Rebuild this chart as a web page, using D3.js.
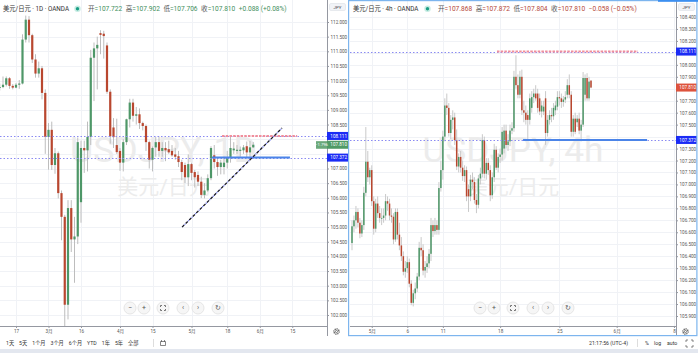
<!DOCTYPE html>
<html>
<head>
<meta charset="utf-8">
<script src="https://cdn.jsdelivr.net/npm/d3@7"></script>
<style>
  body { margin: 0; background: #fff; }
  svg { display: block; }
</style>
</head>
<body>
<script>
var FONT = "Roboto, 'Noto Sans CJK SC', sans-serif";
var upColor = "#4e9768", downColor = "#b9472f";

// ---- daily USD/JPY, weekdays from 2020-02-10 ----
var dayStart = "2020-02-10";
var dayOpen = [109.75,109.78,109.86,110.08,109.82,109.76,109.86,109.90,111.40,112.08,
  111.55,110.72,110.24,110.42,109.58,108.08,108.32,107.12,107.52,106.16,
  105.35,102.35,105.65,104.58,104.68,105.85,107.70,107.62,108.08,110.78,
  111.10,111.62,111.60,111.20,109.62,108.40,107.80,107.60,107.20,107.90,
  108.68,109.25,108.80,108.85,108.55,108.45,107.90,107.30,107.72,107.90,
  107.60,107.70,107.66,107.60,107.48,107.42,107.22,107.12,106.70,107.15,
  106.88,106.78,106.55,106.10,106.25,106.67,107.45,107.22,107.05,107.05,
  107.20,107.38,107.62,107.60,107.60,107.62,107.76,107.55,107.722];
var dayHigh = [109.90,110.14,110.14,110.12,109.88,109.92,110.02,111.58,112.22,112.20,
  111.60,110.90,110.65,110.50,109.70,108.55,108.60,107.70,107.58,106.25,
  105.42,105.92,105.92,105.35,108.06,107.95,107.95,108.60,111.05,111.30,
  111.50,111.72,111.70,111.30,109.70,108.72,108.70,107.70,108.00,108.70,
  109.38,109.38,109.10,109.05,108.60,108.50,107.95,107.75,108.08,108.10,
  107.90,107.90,107.95,107.80,107.70,107.60,107.30,107.20,107.48,107.20,
  106.95,106.90,106.72,106.50,106.80,107.76,107.80,107.32,107.30,107.40,
  107.60,108.08,107.90,107.80,107.75,107.80,107.92,107.94,107.902];
var dayLow = [109.66,109.74,109.80,109.72,109.70,109.74,109.72,109.87,111.30,111.30,
  110.60,110.10,110.10,109.36,107.50,106.96,106.95,106.82,105.98,104.55,
  101.18,101.85,104.15,103.10,104.42,105.15,106.85,106.90,107.80,109.30,
  109.70,110.90,110.75,109.55,107.85,107.70,107.50,106.92,106.90,107.80,
  108.40,108.60,108.50,108.35,108.30,107.60,107.00,106.90,107.40,107.40,
  107.40,107.25,107.50,107.40,107.30,107.05,106.60,106.50,106.40,106.60,
  106.35,106.40,105.99,105.98,106.20,106.60,107.00,106.75,106.80,106.80,
  107.00,107.20,107.50,107.50,107.40,107.50,107.36,107.40,107.706];
var dayClose = [109.78,109.86,110.08,109.82,109.76,109.86,109.90,111.40,112.08,111.55,
  110.72,110.24,110.42,109.58,108.08,108.32,107.12,107.52,106.16,105.35,
  102.35,105.65,104.58,104.68,107.90,107.70,107.62,108.08,110.78,111.10,
  111.22,111.56,111.52,109.62,108.10,108.07,107.56,107.20,107.90,108.68,
  109.25,108.80,108.85,108.55,108.45,107.90,107.30,107.70,107.90,107.60,
  107.70,107.62,107.55,107.45,107.40,107.22,106.88,106.70,107.15,106.85,
  106.70,106.55,106.10,106.25,106.67,107.70,107.22,107.05,107.20,107.20,
  107.38,107.70,107.68,107.64,107.64,107.72,107.55,107.722,107.810];
var dayPriceTicks = [112,111.5,111,110.5,110,109.5,109,108.5,108,107.5,107,106.5,106,105.5,105,104.5,104,103.5,103,102.5,102];
var dayTimeTicks = [["2020-02-17","17"],["2020-03-02","3月"],["2020-03-16","16"],["2020-04-01","4月"],
  ["2020-04-15","15"],["2020-05-01","5月"],["2020-05-18","18"],["2020-06-01","6月"],["2020-06-15","15"]];

// ---- 4h USD/JPY, bar index 0 = Apr 29 ----
var h4Open = [106.51,106.65,106.70,106.77,106.68,106.59,106.66,106.93,107.19,107.06,
  107.12,106.86,106.63,106.84,106.76,106.72,106.72,106.74,106.86,106.84,
  106.74,106.73,106.54,106.77,106.58,106.49,106.40,106.27,106.30,106.35,
  106.17,106.01,106.09,106.13,106.23,106.47,106.45,106.28,106.31,106.34,
  106.42,106.66,106.61,106.66,106.62,106.97,107.12,107.40,107.66,107.64,
  107.43,107.54,107.56,107.37,107.15,107.23,107.14,107.07,107.12,106.96,
  106.90,107.04,107.02,106.87,106.83,107.05,107.09,107.37,107.09,107.18,
  107.12,106.91,107.06,107.29,107.14,107.23,107.25,107.30,107.45,107.33,
  107.36,107.45,107.47,107.90,107.83,107.75,107.90,107.62,107.60,107.58,
  107.54,107.64,107.73,107.76,107.76,107.72,107.61,107.61,107.72,107.43,
  107.54,107.58,107.57,107.62,107.65,107.73,107.72,107.69,107.71,107.75,
  107.83,107.75,107.44,107.55,107.52,107.55,107.45,107.50,107.75,107.89,
  107.72,107.868];
var h4High = [106.70,106.74,106.82,106.80,106.72,106.70,106.98,107.48,107.28,107.14,
  107.16,106.90,106.88,106.90,106.82,106.80,106.80,106.92,106.90,106.88,
  106.80,106.76,106.80,106.80,106.68,106.56,106.44,106.36,106.40,106.38,
  106.20,106.12,106.18,106.26,106.52,106.56,106.50,106.36,106.40,106.46,
  106.72,106.70,106.72,106.70,107.02,107.20,107.45,107.72,107.76,107.68,
  107.58,107.62,107.60,107.46,107.26,107.28,107.20,107.16,107.15,107.00,
  107.08,107.10,107.06,106.92,107.08,107.14,107.42,107.40,107.22,107.22,
  107.16,107.10,107.34,107.32,107.26,107.30,107.48,107.50,107.50,107.42,
  107.50,107.52,107.95,108.08,107.92,107.95,107.96,107.70,107.66,107.62,
  107.76,107.78,107.80,107.83,107.80,107.76,107.70,107.70,107.78,107.58,
  107.62,107.64,107.68,107.70,107.78,107.78,107.76,107.74,107.78,107.88,
  107.92,107.78,107.58,107.60,107.58,107.60,107.54,107.94,107.92,107.93,
  107.90,107.872];
var h4Low = [106.45,106.60,106.63,106.64,106.55,106.56,106.62,106.90,107.02,107.00,
  106.82,106.58,106.60,106.72,106.68,106.66,106.68,106.70,106.78,106.70,
  106.68,106.50,106.52,106.54,106.45,106.36,106.24,106.22,106.26,106.14,
  105.99,105.98,106.04,106.10,106.20,106.40,106.24,106.22,106.26,106.30,
  106.36,106.56,106.58,106.58,106.58,106.94,107.04,107.36,107.58,107.40,
  107.38,107.46,107.33,107.12,107.10,107.10,107.03,107.02,106.86,106.77,
  106.86,106.96,106.84,106.76,106.80,107.00,107.06,107.05,107.04,107.08,
  106.86,106.88,107.02,107.12,107.10,107.18,107.20,107.26,107.30,107.28,
  107.32,107.42,107.44,107.80,107.72,107.72,107.58,107.52,107.50,107.37,
  107.50,107.60,107.68,107.70,107.60,107.58,107.56,107.58,107.33,107.40,
  107.50,107.52,107.54,107.58,107.62,107.66,107.64,107.65,107.68,107.72,
  107.72,107.40,107.40,107.42,107.48,107.42,107.36,107.48,107.70,107.70,
  107.70,107.804];
var h4Close = [106.65,106.70,106.77,106.68,106.59,106.66,106.93,107.19,107.06,107.12,
  106.86,106.63,106.84,106.76,106.72,106.72,106.74,106.86,106.84,106.74,
  106.73,106.54,106.77,106.58,106.49,106.40,106.27,106.30,106.35,106.17,
  106.01,106.09,106.13,106.23,106.47,106.45,106.28,106.31,106.34,106.42,
  106.66,106.61,106.66,106.62,106.97,107.12,107.40,107.66,107.64,107.43,
  107.54,107.56,107.37,107.15,107.23,107.14,107.07,107.12,106.90,106.90,
  107.04,107.02,106.87,106.83,107.05,107.09,107.37,107.09,107.18,107.12,
  106.91,107.06,107.29,107.14,107.23,107.25,107.44,107.45,107.33,107.36,
  107.45,107.47,107.90,107.83,107.75,107.90,107.62,107.60,107.54,107.54,
  107.72,107.73,107.76,107.72,107.64,107.61,107.66,107.65,107.43,107.54,
  107.58,107.57,107.64,107.66,107.73,107.72,107.69,107.71,107.73,107.83,
  107.75,107.44,107.55,107.44,107.55,107.45,107.50,107.89,107.89,107.72,
  107.86,107.810];
var h4PriceTicks = [108.4,108.3,108.2,108.1,108,107.9,107.8,107.7,107.6,107.5,107.4,107.3,107.2,
  107.1,107,106.9,106.8,106.7,106.6,106.5,106.4,106.3,106.2,106.1,106,105.9];
var h4TimeTicks = [[10,"5月"],[28,"6"],[46,"11"],[75,"18"],[105,"25"],[134,"6月"],[163,"8"]];

// drawn levels and tools
var levels = [108.111, 107.372];
var dayResistSpan = [68.4, 91.5], daySupportSpan = [65.3, 89.3];
var dayTrend = [[56.1, 105.0], [86.85, 108.38]];
var h4ResistSpan = [73.4, 144.8], h4SupportSpan = [86.6, 149.4];

var rangeButtons = ["1天","5天","1个月","3个月","6个月","YTD","1年","5年","全部"];

var parse = d3.timeParse("%Y-%m-%d"), fmt = d3.timeFormat("%Y-%m-%d");
var weekdays = d3.timeDay.range(parse(dayStart), parse("2020-07-01"))
  .filter(function(d){ return d.getDay() > 0 && d.getDay() < 6; });
var dayIndex = {};
weekdays.forEach(function(d, i){ dayIndex[fmt(d)] = i; });

function bars(o, h, l, c) {
  return o.map(function(v, i){ return {i: i, o: v, h: h[i], l: l[i], c: c[i]}; });
}

var svg = d3.select("body").append("svg")
  .attr("width", 698).attr("height", 353)
  .attr("font-family", FONT);

function drawPanel(p) {
  var g = svg.append("g");
  var x = p.x, y = p.y;
  var lastClose = p.data[p.data.length - 1].c;
  var tagPrices = levels.concat([lastClose]);

  // grid
  g.selectAll(".hg").data(p.priceTicks).enter().append("line")
    .attr("x1", p.left).attr("x2", p.right)
    .attr("y1", function(d){ return Math.round(y(d)) + 0.5; })
    .attr("y2", function(d){ return Math.round(y(d)) + 0.5; })
    .attr("stroke", "#f0f2f6");
  g.selectAll(".vg").data(p.timeTicks).enter().append("line")
    .attr("x1", function(d){ return Math.round(x(d[0])) + 0.5; })
    .attr("x2", function(d){ return Math.round(x(d[0])) + 0.5; })
    .attr("y1", 0).attr("y2", p.bottom)
    .attr("stroke", "#f0f2f6");

  // watermark
  var cx = (p.left + p.right) / 2;
  g.append("text").attr("x", cx).attr("y", 162).attr("text-anchor", "middle")
    .attr("font-size", 35).attr("fill", "#ececec")
    .attr("textLength", p.wmWidth).attr("lengthAdjust", "spacingAndGlyphs")
    .text(p.watermark);
  g.append("text").attr("x", cx).attr("y", 194).attr("text-anchor", "middle")
    .attr("font-size", 21).attr("fill", "#ececec")
    .text("美元/日元");

  var clip = "clip-" + p.name;
  svg.append("clipPath").attr("id", clip).append("rect")
    .attr("x", p.left).attr("y", 0).attr("width", p.right - p.left).attr("height", p.bottom);
  var pg = g.append("g").attr("clip-path", "url(#" + clip + ")");

  // candles
  var cg = pg.selectAll(".cdl").data(p.data).enter().append("g");
  cg.append("line")
    .attr("x1", function(d){ return x(d.i); }).attr("x2", function(d){ return x(d.i); })
    .attr("y1", function(d){ return y(d.h); }).attr("y2", function(d){ return y(d.l); })
    .attr("stroke", p.wick).attr("stroke-width", 1);
  cg.append("rect")
    .attr("x", function(d){ return x(d.i) - p.bodyW / 2; })
    .attr("width", p.bodyW)
    .attr("y", function(d){ return y(Math.max(d.o, d.c)); })
    .attr("height", function(d){ return Math.max(0.8, Math.abs(y(d.o) - y(d.c))); })
    .attr("fill", function(d){ return d.c >= d.o ? upColor : downColor; });

  // horizontal level lines (dotted across the pane)
  pg.selectAll(".lvl").data(levels).enter().append("line")
    .attr("x1", p.left).attr("x2", p.right)
    .attr("y1", function(d){ return Math.round(y(d)) + 0.5; })
    .attr("y2", function(d){ return Math.round(y(d)) + 0.5; })
    .attr("stroke", "#8a8af2").attr("stroke-width", 1).attr("stroke-dasharray", "1.5,2");

  // resistance ray (red dashed) and support ray (blue)
  pg.append("line")
    .attr("x1", x(p.resist[0])).attr("x2", x(p.resist[1]))
    .attr("y1", y(levels[0])).attr("y2", y(levels[0]))
    .attr("stroke", "#f08e9c").attr("stroke-width", 2).attr("stroke-dasharray", "2.5,1.2");
  pg.append("line")
    .attr("x1", x(p.support[0])).attr("x2", x(p.support[1]))
    .attr("y1", y(levels[1])).attr("y2", y(levels[1]))
    .attr("stroke", "#4b84e8").attr("stroke-width", 2);

  if (p.trend) {
    var t = p.trend;
    pg.append("line")
      .attr("x1", x(t[0][0])).attr("y1", y(t[0][1]))
      .attr("x2", x(t[1][0])).attr("y2", y(t[1][1]))
      .attr("stroke", "#1a1a2a").attr("stroke-width", 1.3).attr("stroke-dasharray", "3,2");
    pg.append("line")
      .attr("x1", x(t[0][0])).attr("y1", y(t[0][1]))
      .attr("x2", x(t[1][0])).attr("y2", y(t[1][1]))
      .attr("stroke", "#6a72f0").attr("stroke-width", 1.3).attr("stroke-dasharray", "1,4")
      .attr("stroke-dashoffset", -3.5);
  }

  // navigation buttons
  var nav = ["−", "+", "fit", "‹", "›", "↻"];
  var navDx = [0, 14, 33, 53, 68, 88];
  var ng = g.selectAll(".nav").data(nav).enter().append("g")
    .attr("transform", function(d, i){ return "translate(" + (p.left + 130 + navDx[i]) + ",308)"; });
  ng.append("circle").attr("r", 6).attr("fill", "#f6f6f6").attr("stroke", "#e6e6e6");
  ng.filter(function(d){ return d !== "fit"; }).append("text")
    .attr("text-anchor", "middle").attr("dy", "0.35em")
    .attr("font-size", 7).attr("fill", "#555").text(function(d){ return d; });
  ng.filter(function(d){ return d === "fit"; }).append("path")
    .attr("d", "M-2.5,-1v-1.5h1.5M1,-2.5h1.5v1.5M2.5,1v1.5h-1.5M-1,2.5h-1.5v-1.5")
    .attr("fill", "none").attr("stroke", "#555").attr("stroke-width", 0.8);

  // price axis (labels hidden under the price tags are skipped)
  var shown = p.priceTicks.filter(function(d){
    return y(d) > 14 && tagPrices.every(function(tp){ return Math.abs(y(d) - y(tp)) > 5.2; });
  });
  var ya = d3.axisRight(y).tickValues(shown).tickFormat(d3.format(".3f"))
    .tickSize(2).tickPadding(1.5);
  var yag = g.append("g").attr("transform", "translate(" + p.right + ",0)").call(ya);
  yag.select(".domain").remove();
  yag.attr("font-size", 4.6).attr("font-family", FONT);
  yag.selectAll("text").attr("fill", "#555");
  yag.selectAll("line").attr("stroke", "#9598a1");

  // time axis
  var xa = d3.axisBottom(x).tickValues(p.timeTicks.map(function(d){ return d[0]; }))
    .tickFormat(function(v){ return p.timeTicks.find(function(d){ return d[0] === v; })[1]; })
    .tickSize(2).tickPadding(1.5);
  var xag = g.append("g").attr("transform", "translate(0," + p.bottom + ")").call(xa);
  xag.select(".domain").remove();
  xag.attr("font-size", 4.6).attr("font-family", FONT);
  xag.selectAll("text").attr("fill", "#555");
  xag.selectAll("line").attr("stroke", "#9598a1");

  g.append("line").attr("x1", p.left).attr("x2", p.right)
    .attr("y1", p.bottom + 0.5).attr("y2", p.bottom + 0.5).attr("stroke", "#9598a1");
  g.append("line").attr("x1", p.right + 0.5).attr("x2", p.right + 0.5)
    .attr("y1", 0).attr("y2", 336).attr("stroke", "#9598a1");

  // gear
  var gx = p.right + 9.5, gy = 331.5;
  g.append("circle").attr("cx", gx).attr("cy", gy).attr("r", 2.6)
    .attr("fill", "none").attr("stroke", "#444").attr("stroke-width", 1.3).attr("stroke-dasharray", "1.1,0.9");
  g.append("circle").attr("cx", gx).attr("cy", gy).attr("r", 1.1)
    .attr("fill", "none").attr("stroke", "#444").attr("stroke-width", 0.7);

  // JPY badge
  g.append("rect").attr("x", p.right + 2.5).attr("y", 3.5).attr("width", 16).attr("height", 7).attr("rx", 1.5)
    .attr("fill", "#f1f3f7").attr("stroke", "#dcdfe6").attr("stroke-width", 0.6);
  g.append("text").attr("x", p.right + 10.5).attr("y", 8.7).attr("text-anchor", "middle")
    .attr("font-size", 4.4).attr("fill", "#444").text("JPY");

  // price tags on the axis
  function tag(price, fill, x0, w, txt) {
    var yy = y(price);
    g.append("rect").attr("x", x0).attr("y", yy - 4).attr("width", w).attr("height", 8).attr("fill", fill);
    g.append("text").attr("x", x0 + w - 1).attr("y", yy + 1.6).attr("text-anchor", "end")
      .attr("font-size", 4.6).attr("fill", "#fff").text(txt);
  }
  tag(levels[0], "#1b2cf5", p.right, 21, d3.format(".3f")(levels[0]));
  tag(levels[1], "#1b2cf5", p.right, 21, d3.format(".3f")(levels[1]));
  p.lastTag(tag, y);

  // header
  var last = p.data[p.data.length - 1];
  var chg = last.c - last.o;
  g.append("text").attr("x", p.left + 3).attr("y", 11).attr("font-size", 6.3).attr("fill", "#333")
    .text("美元/日元 · " + p.interval + " · OANDA");
  g.append("circle").attr("cx", p.left + 77.5).attr("cy", 8.8).attr("r", 3.2).attr("fill", "#c7ece3");
  g.append("circle").attr("cx", p.left + 77.5).attr("cy", 8.8).attr("r", 1.7).attr("fill", "#1b9e84");
  var vc = p.headColor;
  var ohlc = g.append("text").attr("x", p.left + 88).attr("y", 11).attr("font-size", 6.6);
  [["开", last.o], ["高", last.h], ["低", last.l], ["收", last.c]].forEach(function(k, i){
    ohlc.append("tspan").attr("fill", "#555").attr("dx", i ? 3.5 : 0).text(k[0]);
    ohlc.append("tspan").attr("fill", vc).text("=" + d3.format(".3f")(k[1]));
  });
  ohlc.append("tspan").attr("fill", vc).attr("dx", 3.5)
    .text((chg >= 0 ? "+" : "−") + d3.format(".3f")(Math.abs(chg)) + " (" + (chg >= 0 ? "+" : "−") +
      d3.format(".2f")(Math.abs(chg / last.o * 100)) + "%)");
}

// left: daily
var yDay = d3.scaleLinear().domain([102, 112]).range([315, 22]);
var xDay = d3.scaleLinear().domain([0, 90]).range([-0.25, 292.25]);
drawPanel({
  name: "day", left: 0, right: 327, bottom: 326,
  x: xDay, y: yDay, data: bars(dayOpen, dayHigh, dayLow, dayClose),
  bodyW: 2.2, wick: "#bdbdbd",
  priceTicks: dayPriceTicks,
  timeTicks: dayTimeTicks.map(function(d){ return [dayIndex[d[0]], d[1]]; }),
  watermark: "USDJPY, 1D", wmWidth: 187, interval: "1D",
  resist: dayResistSpan, support: daySupportSpan, trend: dayTrend,
  headColor: "#3f8f5d",
  lastTag: function(tag, y){
    var c = dayClose[dayClose.length - 1], yy = y(c);
    svg.append("rect").attr("x", 316).attr("y", yy - 3.6).attr("width", 11).attr("height", 7.6).attr("fill", "#6aa87a");
    svg.append("text").attr("x", 321.5).attr("y", yy + 1.6).attr("text-anchor", "middle")
      .attr("font-size", 4.2).attr("fill", "#fff").text("−1.796");
    tag(c, "#4f9a66", 327, 21, d3.format(".3f")(c));
  }
});

// right: 4h
var yH4 = d3.scaleLinear().domain([105.9, 108.4]).range([316, 17]);
var xH4 = d3.scaleLinear().domain([0, 121]).range([352, 591]);
drawPanel({
  name: "h4", left: 350, right: 676, bottom: 326,
  x: xH4, y: yH4, data: bars(h4Open, h4High, h4Low, h4Close),
  bodyW: 1.5, wick: "#c9c9c9",
  priceTicks: h4PriceTicks, timeTicks: h4TimeTicks,
  watermark: "USDJPY, 4h", wmWidth: 181, interval: "4h",
  resist: h4ResistSpan, support: h4SupportSpan, trend: null,
  headColor: "#b5483a",
  lastTag: function(tag, y){
    var c = h4Close[h4Close.length - 1];
    tag(c, "#dd533d", 676, 21, d3.format(".3f")(c));
  }
});

// selection frame of right pane
svg.append("rect").attr("x", 348.6).attr("y", 0.6).attr("width", 348.3).attr("height", 335)
  .attr("fill", "none").attr("stroke", "#7db5ee").attr("stroke-width", 1.2);
svg.append("rect").attr("x", 658).attr("y", 0).attr("width", 40).attr("height", 1.8).attr("fill", "#3c8ff0");

// bottom toolbar
var tb = svg.append("g").attr("font-size", 5.2).attr("fill", "#333");
var bx = 6;
rangeButtons.forEach(function(t){
  var el = tb.append("text").attr("x", bx).attr("y", 345).text(t);
  bx += el.node().getComputedTextLength() + 5;
});
tb.append("line").attr("x1", 153.5).attr("x2", 153.5).attr("y1", 339).attr("y2", 347).attr("stroke", "#ddd");
tb.append("path").attr("d", "M160.5,341.5h5v4h-5z M161.5,340v2 M164.5,340v2")
  .attr("fill", "none").attr("stroke", "#555").attr("stroke-width", 0.7);
tb.append("text").attr("x", 589).attr("y", 345).text("21:17:56 (UTC-4)");
tb.append("line").attr("x1", 637.5).attr("x2", 637.5).attr("y1", 339).attr("y2", 347).attr("stroke", "#ddd");
tb.append("text").attr("x", 645).attr("y", 345).text("%");
tb.append("text").attr("x", 654).attr("y", 345).text("log");
tb.append("text").attr("x", 667).attr("y", 345).text("auto");
tb.append("path").attr("d", "M686,342v-2h2M691,340h2v2M693,345v2h-2M688,347h-2v-2")
  .attr("fill", "none").attr("stroke", "#555").attr("stroke-width", 0.7);
svg.append("rect").attr("x", 0).attr("y", 349).attr("width", 698).attr("height", 4).attr("fill", "#e3e7ef");
</script>
</body>
</html>
